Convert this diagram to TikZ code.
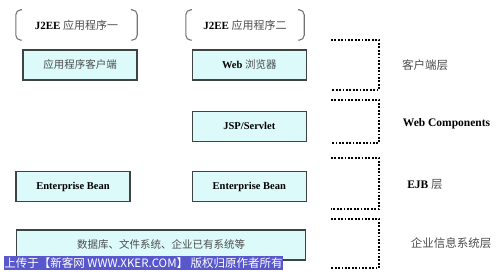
\documentclass[tikz,border=0pt]{standalone}
\usepackage{fontspec}
\setmainfont{Liberation Serif}
\newfontfamily\cjk{Noto Sans CJK SC}
\newcommand{\cn}[1]{{\cjk\mdseries\color{black!70}#1}}
\usepackage{xcolor}
\definecolor{tierfill}{RGB}{221,250,250}
\definecolor{tierline}{RGB}{60,68,68}
\definecolor{markblue}{RGB}{88,88,204}
\usepackage{tikz}
\usetikzlibrary{positioning,calc}

\tikzset{
  compbox/.style={draw=tierline, line width=1.3pt, fill=tierfill, minimum width=114pt, minimum height=30pt, inner sep=0pt, font=\fontsize{10.5}{12}\selectfont\bfseries},
  apptitle/.style={minimum height=30pt, inner sep=0pt, font=\fontsize{11}{13}\selectfont\bfseries},
  paren/.style={draw=black!55, line width=1.1pt, rounded corners=5pt},
  layerline/.style={line width=1.8pt, dash pattern=on 1.8pt off 1.6pt},
  layerlabel/.style={font=\fontsize{11.5}{13}\selectfont\bfseries}
}

\begin{document}
\begin{tikzpicture}[x=1pt, y=1pt]
  \useasboundingbox (0,0) rectangle (500,276);
  % application titles
  \node[apptitle, minimum width=121pt] (app1) at (76.5,251) {J2EE \cn{应用程序一}};
  \node[apptitle, minimum width=118pt] (app2) at (245,251) {J2EE \cn{应用程序二}};
  \foreach \app in {app1,app2} {
    \draw[paren] ([xshift=6pt]\app.north west) -- (\app.north west) -- (\app.south west) -- ++(6pt,0);
    \draw[paren] ([xshift=-6pt]\app.north east) -- (\app.north east) -- (\app.south east) -- ++(-6pt,0);
  }
  % component boxes
  \node[compbox] (client) at (80,211) {\cn{应用程序客户端}};
  \node[compbox, right=54pt of client] (browser) {Web \cn{浏览器}};
  \node[compbox, below=30pt of browser] (jsp) {JSP/Servlet};
  \node[compbox, below=29pt of jsp] (bean2) {Enterprise Bean};
  \node[compbox, left=61pt of bean2] (bean1) {Enterprise Bean};
  \node[compbox, minimum width=289pt, below=27pt of $(bean1.south west)!0.5!(bean2.south east)$] (eis) {\cn{数据库、文件系统、企业已有系统等}};
  % tiers
  \foreach \top/\bot in {236/186, 176/133, 118/67, 57/8}
    \draw[layerline] (331,\top) -- (379,\top) -- (379,\bot) -- (331,\bot);
  \node[layerlabel] (clienttier) at (425,211) {\cn{客户端层}};
  \node[layerlabel] (webtier) at (446.5,152) {Web Components};
  \node[layerlabel] (ejbtier) at (425,92) {EJB \cn{层}};
  \node[layerlabel] (eistier) at (451,33) {\cn{企业信息系统层}};
  % banner
  \node[fill=markblue, text=white, minimum width=277pt, minimum height=14pt, inner sep=0pt, font=\cjk\fontsize{11.5}{13}\selectfont] (banner) at (143.5,13) {上传于【新客网 WWW.XKER.COM】 版权归原作者所有};
\end{tikzpicture}
\end{document}
